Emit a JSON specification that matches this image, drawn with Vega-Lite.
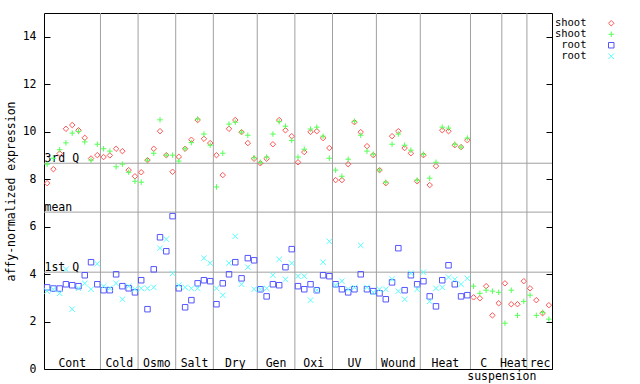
{
  "$schema": "https://vega.github.io/schema/vega-lite/v6.json",
  "width": 508,
  "height": 356,
  "autosize": {"type": "none"},
  "padding": {"left": 44, "top": 13, "right": 88, "bottom": 15},
  "background": "white",
  "config": {
    "view": {"stroke": "black", "strokeWidth": 1},
    "font": "DejaVu Sans Mono",
    "text": {"font": "DejaVu Sans Mono", "fontSize": 11.5, "color": "black"}
  },
  "datasets": {
    "bounds": [{"b": 8.5}, {"b": 14.5}, {"b": 20.5}, {"b": 26.5}, {"b": 33.5}, {"b": 39.5}, {"b": 45.5}, {"b": 52.5}, {"b": 59.5}, {"b": 67.5}, {"b": 72.5}, {"b": 76.5}],
    "quart": [{"q": "3rd Q", "v": 8.67}, {"q": "mean", "v": 6.61}, {"q": "1st Q", "v": 4.08}],
    "groups": [
      {"name": "Cont", "c": 4}, {"name": "Cold", "c": 11.5}, {"name": "Osmo", "c": 17.5}, {"name": "Salt", "c": 23.5},
      {"name": "Dry", "c": 30}, {"name": "Gen", "c": 36.5}, {"name": "Oxi", "c": 42.5}, {"name": "UV", "c": 49},
      {"name": "Wound", "c": 56}, {"name": "Heat", "c": 63.5}, {"name": "C", "c": 69.6}, {"name": "Heat", "c": 74.4}, {"name": "rec", "c": 78.6}
    ],
    "sub": [{"name": "suspension", "c": 72.5}],
    "pts": [
      {"i":0,"s":"shoot_1","v":7.83},{"i":1,"s":"shoot_1","v":8.42},{"i":2,"s":"shoot_1","v":9.08},{"i":3,"s":"shoot_1","v":10.12},{"i":4,"s":"shoot_1","v":10.28},{"i":5,"s":"shoot_1","v":10.06},{"i":6,"s":"shoot_1","v":9.74},{"i":7,"s":"shoot_1","v":8.87},{"i":8,"s":"shoot_1","v":9.01},{"i":9,"s":"shoot_1","v":8.93},
      {"i":10,"s":"shoot_1","v":9.0},{"i":11,"s":"shoot_1","v":9.28},{"i":12,"s":"shoot_1","v":9.18},{"i":13,"s":"shoot_1","v":8.38},{"i":14,"s":"shoot_1","v":8.12},{"i":15,"s":"shoot_1","v":8.29},{"i":16,"s":"shoot_1","v":8.8},{"i":17,"s":"shoot_1","v":9.28},{"i":18,"s":"shoot_1","v":10.02},{"i":19,"s":"shoot_1","v":9.01},
      {"i":20,"s":"shoot_1","v":8.31},{"i":21,"s":"shoot_1","v":8.94},{"i":22,"s":"shoot_1","v":9.28},{"i":23,"s":"shoot_1","v":9.66},{"i":24,"s":"shoot_1","v":10.49},{"i":25,"s":"shoot_1","v":9.7},{"i":26,"s":"shoot_1","v":9.52},{"i":27,"s":"shoot_1","v":9.01},{"i":28,"s":"shoot_1","v":8.17},{"i":29,"s":"shoot_1","v":10.12},
      {"i":30,"s":"shoot_1","v":10.49},{"i":31,"s":"shoot_1","v":9.98},{"i":32,"s":"shoot_1","v":9.52},{"i":33,"s":"shoot_1","v":8.86},{"i":34,"s":"shoot_1","v":8.67},{"i":35,"s":"shoot_1","v":8.86},{"i":36,"s":"shoot_1","v":9.47},{"i":37,"s":"shoot_1","v":10.49},{"i":38,"s":"shoot_1","v":10.06},{"i":39,"s":"shoot_1","v":9.81},
      {"i":40,"s":"shoot_1","v":8.71},{"i":41,"s":"shoot_1","v":9.14},{"i":42,"s":"shoot_1","v":9.99},{"i":43,"s":"shoot_1","v":10.02},{"i":44,"s":"shoot_1","v":9.73},{"i":45,"s":"shoot_1","v":9.31},{"i":46,"s":"shoot_1","v":7.96},{"i":47,"s":"shoot_1","v":7.96},{"i":48,"s":"shoot_1","v":8.63},{"i":49,"s":"shoot_1","v":10.4},
      {"i":50,"s":"shoot_1","v":9.98},{"i":51,"s":"shoot_1","v":9.39},{"i":52,"s":"shoot_1","v":9.01},{"i":53,"s":"shoot_1","v":8.38},{"i":54,"s":"shoot_1","v":7.83},{"i":55,"s":"shoot_1","v":9.81},{"i":56,"s":"shoot_1","v":10.02},{"i":57,"s":"shoot_1","v":9.31},{"i":58,"s":"shoot_1","v":9.09},{"i":59,"s":"shoot_1","v":7.91},
      {"i":60,"s":"shoot_1","v":9.01},{"i":61,"s":"shoot_1","v":7.75},{"i":62,"s":"shoot_1","v":8.55},{"i":63,"s":"shoot_1","v":10.06},{"i":64,"s":"shoot_1","v":10.02},{"i":65,"s":"shoot_1","v":9.43},{"i":66,"s":"shoot_1","v":9.35},{"i":67,"s":"shoot_1","v":9.64},{"i":68,"s":"shoot_1","v":3.02},{"i":69,"s":"shoot_1","v":2.98},
      {"i":70,"s":"shoot_1","v":3.49},{"i":71,"s":"shoot_1","v":2.26},{"i":72,"s":"shoot_1","v":2.77},{"i":73,"s":"shoot_1","v":3.61},{"i":74,"s":"shoot_1","v":2.73},{"i":75,"s":"shoot_1","v":2.73},{"i":76,"s":"shoot_1","v":3.7},{"i":77,"s":"shoot_1","v":3.4},{"i":78,"s":"shoot_1","v":2.9},{"i":79,"s":"shoot_1","v":2.35},{"i":80,"s":"shoot_1","v":2.69},

      {"i":0,"s":"shoot_2","v":8.63},{"i":1,"s":"shoot_2","v":8.88},{"i":2,"s":"shoot_2","v":9.24},{"i":3,"s":"shoot_2","v":9.53},{"i":4,"s":"shoot_2","v":9.94},{"i":5,"s":"shoot_2","v":10.01},{"i":6,"s":"shoot_2","v":9.57},{"i":7,"s":"shoot_2","v":8.8},{"i":8,"s":"shoot_2","v":9.47},{"i":9,"s":"shoot_2","v":9.28},
      {"i":10,"s":"shoot_2","v":9.18},{"i":11,"s":"shoot_2","v":8.52},{"i":12,"s":"shoot_2","v":8.63},{"i":13,"s":"shoot_2","v":8.29},{"i":14,"s":"shoot_2","v":7.91},{"i":15,"s":"shoot_2","v":7.87},{"i":16,"s":"shoot_2","v":8.8},{"i":17,"s":"shoot_2","v":9.09},{"i":18,"s":"shoot_2","v":10.5},{"i":19,"s":"shoot_2","v":9.01},
      {"i":20,"s":"shoot_2","v":9.01},{"i":21,"s":"shoot_2","v":8.76},{"i":22,"s":"shoot_2","v":9.28},{"i":23,"s":"shoot_2","v":9.54},{"i":24,"s":"shoot_2","v":10.53},{"i":25,"s":"shoot_2","v":9.9},{"i":26,"s":"shoot_2","v":9.43},{"i":27,"s":"shoot_2","v":7.67},{"i":28,"s":"shoot_2","v":9.09},{"i":29,"s":"shoot_2","v":10.32},
      {"i":30,"s":"shoot_2","v":10.4},{"i":31,"s":"shoot_2","v":9.98},{"i":32,"s":"shoot_2","v":9.85},{"i":33,"s":"shoot_2","v":8.9},{"i":34,"s":"shoot_2","v":8.71},{"i":35,"s":"shoot_2","v":8.93},{"i":36,"s":"shoot_2","v":9.9},{"i":37,"s":"shoot_2","v":10.42},{"i":38,"s":"shoot_2","v":10.23},{"i":39,"s":"shoot_2","v":9.63},
      {"i":40,"s":"shoot_2","v":8.93},{"i":41,"s":"shoot_2","v":9.26},{"i":42,"s":"shoot_2","v":10.11},{"i":43,"s":"shoot_2","v":10.19},{"i":44,"s":"shoot_2","v":9.81},{"i":45,"s":"shoot_2","v":8.88},{"i":46,"s":"shoot_2","v":8.38},{"i":47,"s":"shoot_2","v":8.12},{"i":48,"s":"shoot_2","v":8.84},{"i":49,"s":"shoot_2","v":10.44},
      {"i":50,"s":"shoot_2","v":9.85},{"i":51,"s":"shoot_2","v":9.18},{"i":52,"s":"shoot_2","v":9.05},{"i":53,"s":"shoot_2","v":8.38},{"i":54,"s":"shoot_2","v":7.87},{"i":55,"s":"shoot_2","v":9.47},{"i":56,"s":"shoot_2","v":9.9},{"i":57,"s":"shoot_2","v":9.43},{"i":58,"s":"shoot_2","v":9.22},{"i":59,"s":"shoot_2","v":7.96},
      {"i":60,"s":"shoot_2","v":9.05},{"i":61,"s":"shoot_2","v":8.04},{"i":62,"s":"shoot_2","v":8.71},{"i":63,"s":"shoot_2","v":10.19},{"i":64,"s":"shoot_2","v":10.15},{"i":65,"s":"shoot_2","v":9.47},{"i":66,"s":"shoot_2","v":9.35},{"i":67,"s":"shoot_2","v":9.73},{"i":68,"s":"shoot_2","v":3.49},{"i":69,"s":"shoot_2","v":3.19},
      {"i":70,"s":"shoot_2","v":3.32},{"i":71,"s":"shoot_2","v":3.28},{"i":72,"s":"shoot_2","v":3.23},{"i":73,"s":"shoot_2","v":1.93},{"i":74,"s":"shoot_2","v":3.32},{"i":75,"s":"shoot_2","v":2.26},{"i":76,"s":"shoot_2","v":2.85},{"i":77,"s":"shoot_2","v":3.11},{"i":78,"s":"shoot_2","v":2.26},{"i":79,"s":"shoot_2","v":2.39},{"i":80,"s":"shoot_2","v":2.1},

      {"i":0,"s":"root_1","v":3.44},{"i":1,"s":"root_1","v":3.39},{"i":2,"s":"root_1","v":3.39},{"i":3,"s":"root_1","v":3.57},{"i":4,"s":"root_1","v":3.53},{"i":5,"s":"root_1","v":3.49},{"i":6,"s":"root_1","v":3.95},{"i":7,"s":"root_1","v":4.5},{"i":8,"s":"root_1","v":3.57},{"i":9,"s":"root_1","v":3.32},
      {"i":10,"s":"root_1","v":3.32},{"i":11,"s":"root_1","v":3.99},{"i":12,"s":"root_1","v":3.49},{"i":13,"s":"root_1","v":3.4},{"i":14,"s":"root_1","v":3.23},{"i":15,"s":"root_1","v":3.74},{"i":16,"s":"root_1","v":2.52},{"i":17,"s":"root_1","v":4.2},{"i":18,"s":"root_1","v":5.55},{"i":19,"s":"root_1","v":4.96},
      {"i":20,"s":"root_1","v":6.44},{"i":21,"s":"root_1","v":3.4},{"i":22,"s":"root_1","v":2.6},{"i":23,"s":"root_1","v":2.9},{"i":24,"s":"root_1","v":3.61},{"i":25,"s":"root_1","v":3.74},{"i":26,"s":"root_1","v":3.7},{"i":27,"s":"root_1","v":2.73},{"i":28,"s":"root_1","v":3.61},{"i":29,"s":"root_1","v":3.99},
      {"i":30,"s":"root_1","v":4.5},{"i":31,"s":"root_1","v":3.82},{"i":32,"s":"root_1","v":4.67},{"i":33,"s":"root_1","v":4.58},{"i":34,"s":"root_1","v":3.36},{"i":35,"s":"root_1","v":3.06},{"i":36,"s":"root_1","v":3.57},{"i":37,"s":"root_1","v":3.53},{"i":38,"s":"root_1","v":4.29},{"i":39,"s":"root_1","v":5.05},
      {"i":40,"s":"root_1","v":3.49},{"i":41,"s":"root_1","v":3.36},{"i":42,"s":"root_1","v":3.57},{"i":43,"s":"root_1","v":3.32},{"i":44,"s":"root_1","v":3.95},{"i":45,"s":"root_1","v":3.91},{"i":46,"s":"root_1","v":3.57},{"i":47,"s":"root_1","v":3.36},{"i":48,"s":"root_1","v":3.23},{"i":49,"s":"root_1","v":3.36},
      {"i":50,"s":"root_1","v":3.99},{"i":51,"s":"root_1","v":3.36},{"i":52,"s":"root_1","v":3.28},{"i":53,"s":"root_1","v":3.19},{"i":54,"s":"root_1","v":2.94},{"i":55,"s":"root_1","v":3.65},{"i":56,"s":"root_1","v":5.09},{"i":57,"s":"root_1","v":3.32},{"i":58,"s":"root_1","v":3.95},{"i":59,"s":"root_1","v":3.57},
      {"i":60,"s":"root_1","v":3.7},{"i":61,"s":"root_1","v":3.06},{"i":62,"s":"root_1","v":2.64},{"i":63,"s":"root_1","v":3.74},{"i":64,"s":"root_1","v":4.37},{"i":65,"s":"root_1","v":3.57},{"i":66,"s":"root_1","v":3.06},{"i":67,"s":"root_1","v":3.11},

      {"i":0,"s":"root_2","v":3.28},{"i":1,"s":"root_2","v":3.36},{"i":2,"s":"root_2","v":3.19},{"i":3,"s":"root_2","v":4.2},{"i":4,"s":"root_2","v":2.52},{"i":5,"s":"root_2","v":3.4},{"i":6,"s":"root_2","v":3.61},{"i":7,"s":"root_2","v":3.36},{"i":8,"s":"root_2","v":4.43},{"i":9,"s":"root_2","v":3.49},
      {"i":10,"s":"root_2","v":3.4},{"i":11,"s":"root_2","v":3.61},{"i":12,"s":"root_2","v":2.94},{"i":13,"s":"root_2","v":3.49},{"i":14,"s":"root_2","v":3.36},{"i":15,"s":"root_2","v":3.4},{"i":16,"s":"root_2","v":3.4},{"i":17,"s":"root_2","v":3.44},{"i":18,"s":"root_2","v":5.09},{"i":19,"s":"root_2","v":5.47},
      {"i":20,"s":"root_2","v":4.03},{"i":21,"s":"root_2","v":3.53},{"i":22,"s":"root_2","v":3.44},{"i":23,"s":"root_2","v":3.4},{"i":24,"s":"root_2","v":3.4},{"i":25,"s":"root_2","v":4.67},{"i":26,"s":"root_2","v":4.46},{"i":27,"s":"root_2","v":3.4},{"i":28,"s":"root_2","v":3.11},{"i":29,"s":"root_2","v":4.46},
      {"i":30,"s":"root_2","v":5.59},{"i":31,"s":"root_2","v":3.57},{"i":32,"s":"root_2","v":4.29},{"i":33,"s":"root_2","v":3.36},{"i":34,"s":"root_2","v":3.36},{"i":35,"s":"root_2","v":3.4},{"i":36,"s":"root_2","v":3.95},{"i":37,"s":"root_2","v":4.62},{"i":38,"s":"root_2","v":3.78},{"i":39,"s":"root_2","v":4.46},
      {"i":40,"s":"root_2","v":3.91},{"i":41,"s":"root_2","v":3.91},{"i":42,"s":"root_2","v":2.9},{"i":43,"s":"root_2","v":3.32},{"i":44,"s":"root_2","v":4.5},{"i":45,"s":"root_2","v":5.38},{"i":46,"s":"root_2","v":3.53},{"i":47,"s":"root_2","v":3.7},{"i":48,"s":"root_2","v":3.36},{"i":49,"s":"root_2","v":3.44},
      {"i":50,"s":"root_2","v":5.21},{"i":51,"s":"root_2","v":3.44},{"i":52,"s":"root_2","v":3.23},{"i":53,"s":"root_2","v":3.36},{"i":54,"s":"root_2","v":3.36},{"i":55,"s":"root_2","v":3.78},{"i":56,"s":"root_2","v":3.28},{"i":57,"s":"root_2","v":2.94},{"i":58,"s":"root_2","v":4.03},{"i":59,"s":"root_2","v":3.36},
      {"i":60,"s":"root_2","v":4.08},{"i":61,"s":"root_2","v":2.85},{"i":62,"s":"root_2","v":3.4},{"i":63,"s":"root_2","v":3.44},{"i":64,"s":"root_2","v":3.87},{"i":65,"s":"root_2","v":3.78},{"i":66,"s":"root_2","v":3.57},{"i":67,"s":"root_2","v":3.82}
    ]
  },
  "layer": [
    {
      "data": {"name": "bounds"},
      "mark": {"type": "rule", "color": "#a0a0a0", "strokeWidth": 1},
      "encoding": {
        "x": {"field": "b", "type": "quantitative", "scale": {"domain": [-0.5, 80.5], "nice": false, "zero": false}, "axis": null}
      }
    },
    {
      "data": {"name": "quart"},
      "mark": {"type": "rule", "color": "#a0a0a0", "strokeWidth": 1},
      "encoding": {
        "y": {
          "field": "v", "type": "quantitative",
          "scale": {"domain": [0, 15], "nice": false, "zero": false},
          "axis": {"orient": "right", "values": [0, 2, 4, 6, 8, 10, 12, 14], "tickSize": -6, "tickColor": "black", "tickWidth": 1, "labels": false, "domain": false, "grid": false, "title": null}
        }
      }
    },
    {
      "data": {"name": "quart"},
      "mark": {"type": "text", "align": "left", "baseline": "alphabetic", "dx": 0.5, "dy": -1, "font": "DejaVu Sans Mono", "fontSize": 11.5, "color": "black"},
      "encoding": {
        "x": {"datum": -0.5, "type": "quantitative", "scale": {"domain": [-0.5, 80.5], "nice": false, "zero": false}, "axis": null},
        "y": {"field": "v", "type": "quantitative", "scale": {"domain": [0, 15], "nice": false, "zero": false}, "axis": null},
        "text": {"field": "q"}
      }
    },
    {
      "data": {"name": "groups"},
      "mark": {"type": "text", "align": "center", "baseline": "alphabetic", "dy": -2, "font": "DejaVu Sans Mono", "fontSize": 11.5, "color": "black"},
      "encoding": {
        "x": {"field": "c", "type": "quantitative", "scale": {"domain": [-0.5, 80.5], "nice": false, "zero": false}, "axis": null},
        "y": {"datum": 0, "type": "quantitative", "scale": {"domain": [0, 15], "nice": false, "zero": false}, "axis": null},
        "text": {"field": "name"}
      }
    },
    {
      "data": {"name": "sub"},
      "mark": {"type": "text", "align": "center", "baseline": "alphabetic", "dy": 11, "font": "DejaVu Sans Mono", "fontSize": 11.5, "color": "black"},
      "encoding": {
        "x": {"field": "c", "type": "quantitative", "scale": {"domain": [-0.5, 80.5], "nice": false, "zero": false}, "axis": null},
        "y": {"datum": 0, "type": "quantitative", "scale": {"domain": [0, 15], "nice": false, "zero": false}, "axis": null},
        "text": {"field": "name"}
      }
    },
    {
      "data": {"name": "pts"},
      "mark": {"type": "point", "filled": false, "strokeWidth": 1, "size": 30, "opacity": 1},
      "encoding": {
        "x": {"field": "i", "type": "quantitative", "scale": {"domain": [-0.5, 80.5], "nice": false, "zero": false}, "axis": null},
        "y": {
          "field": "v", "type": "quantitative",
          "scale": {"domain": [0, 15], "nice": false, "zero": false},
          "axis": {
            "orient": "left", "values": [0, 2, 4, 6, 8, 10, 12, 14], "tickSize": -6, "tickColor": "black", "tickWidth": 1,
            "domain": false, "grid": false,
            "labelFont": "DejaVu Sans Mono", "labelFontSize": 11.5, "labelColor": "black", "labelPadding": 14,
            "title": "affy-normalized expression", "titleFont": "DejaVu Sans Mono", "titleFontSize": 11.5, "titleFontWeight": "normal", "titleColor": "black", "titlePadding": 6
          }
        },
        "color": {
          "field": "s", "type": "nominal",
          "scale": {"domain": ["shoot_1", "shoot_2", "root_1", "root_2"], "range": ["#ff5555", "#55ff55", "#5555ff", "#55ffff"]},
          "legend": {
            "title": null, "orient": "none", "legendX": 562, "legendY": 5,
            "labelExpr": "slice(datum.label, 0, -2)",
            "labelFont": "DejaVu Sans Mono", "labelFontSize": 10.5, "labelAlign": "right", "labelOffset": -30,
            "symbolSize": 30, "symbolStrokeWidth": 1, "rowPadding": 0,
            "encode": {"labels": {"update": {"fill": {"scale": "color", "field": "value"}}}}
          }
        },
        "shape": {
          "field": "s", "type": "nominal",
          "scale": {"domain": ["shoot_1", "shoot_2", "root_1", "root_2"], "range": ["diamond", "M-1,0H1M0,-1V1", "square", "M-1,-1L1,1M-1,1L1,-1"]}
        }
      }
    }
  ],
  "resolve": {"axis": {"y": "independent"}}
}
